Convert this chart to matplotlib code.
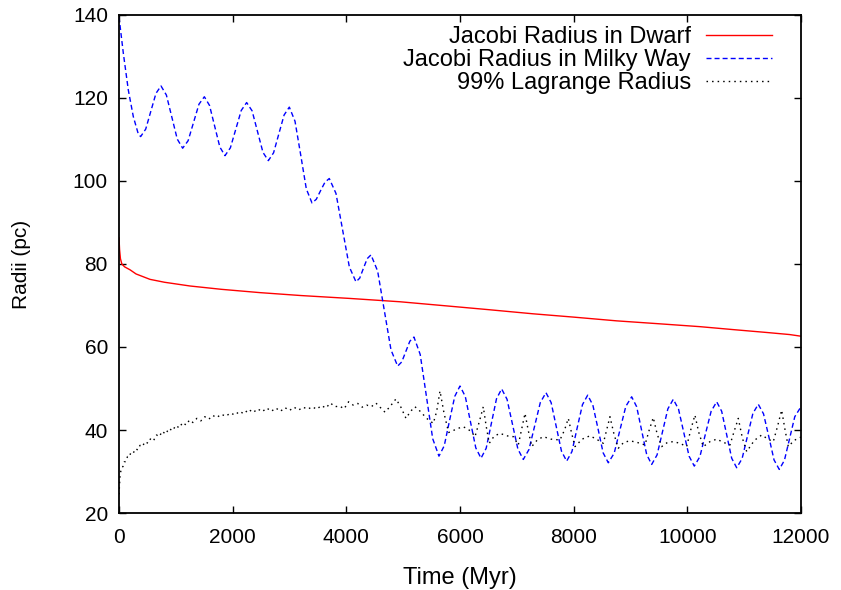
import matplotlib
matplotlib.use('Agg')
import matplotlib.pyplot as plt

plt.rcParams['font.family'] = ['Liberation Sans', 'DejaVu Sans']

# Jacobi radius in the dwarf (red, solid)
dwarf_t = [0, 10, 25, 50, 100, 194, 300, 545, 800, 1249, 1800, 2481, 3200, 4064,
           4944, 5766, 6500, 7285, 8000, 8757, 9500, 10223, 10800, 11396, 11800, 12000]
dwarf_r = [86.3, 83.5, 81.3, 80.0, 79.3, 78.6, 77.6, 76.3, 75.6, 74.7, 73.9, 73.1, 72.4, 71.7,
           70.9, 69.9, 69.0, 68.0, 67.2, 66.3, 65.6, 64.9, 64.2, 63.5, 63.0, 62.6]

# Jacobi radius in the Milky Way (blue, dashed)
mw_t = [0, 76, 164, 252, 340, 381,
        470, 560, 650, 739,
        834, 930, 1025, 1120,
        1216, 1311, 1407, 1502,
        1593, 1684, 1774, 1865,
        1960, 2056, 2151, 2246,
        2342, 2437, 2533, 2628,
        2720, 2813, 2905, 2997,
        3097, 3197, 3296, 3396,
        3472, 3548, 3624, 3700,
        3818, 3935, 4053, 4170,
        4236, 4302, 4368, 4434,
        4551, 4669, 4786, 4903,
        4975, 5047, 5118, 5190,
        5300, 5410, 5520, 5630,
        5723, 5815, 5908, 6000,
        6093, 6185, 6278, 6370,
        6461, 6552, 6642, 6733,
        6828, 6924, 7019, 7114,
        7214, 7314, 7413, 7513,
        7604, 7695, 7786, 7877,
        7970, 8062, 8155, 8247,
        8338, 8429, 8519, 8610,
        8713, 8816, 8918, 9021,
        9109, 9197, 9285, 9373,
        9468, 9563, 9658, 9753,
        9846, 9938, 10031, 10123,
        10222, 10320, 10419, 10517,
        10605, 10693, 10781, 10869,
        10964, 11059, 11154, 11249,
        11341, 11434, 11526, 11618,
        11709, 11800, 11891, 12000]
mw_r = [139.5, 130.8, 121.9, 115.5, 111.3, 110.7,
        112.5, 116.8, 121.1, 122.9,
        120.7, 115.4, 110.1, 107.9,
        109.7, 114.1, 118.5, 120.3,
        118.2, 113.2, 108.2, 106.1,
        108.0, 112.5, 117.0, 118.9,
        116.9, 111.9, 106.9, 104.9,
        106.8, 111.4, 115.9, 117.8,
        114.4, 106.3, 98.1, 94.7,
        95.6, 97.7, 99.7, 100.6,
        97.0, 88.2, 79.3, 75.7,
        76.6, 79.0, 81.3, 82.2,
        78.3, 68.8, 59.3, 55.4,
        56.4, 58.9, 61.4, 62.4,
        58.2, 48.1, 37.9, 33.7,
        36.2, 42.2, 48.1, 50.6,
        48.1, 41.9, 35.7, 33.2,
        35.6, 41.6, 47.5, 49.9,
        47.4, 41.4, 35.4, 32.9,
        35.3, 41.0, 46.6, 49.0,
        46.6, 40.8, 34.9, 32.5,
        34.8, 40.5, 46.1, 48.4,
        46.0, 40.3, 34.5, 32.1,
        34.4, 40.1, 45.7, 48.0,
        45.6, 39.9, 34.1, 31.7,
        34.0, 39.6, 45.1, 47.4,
        45.0, 39.4, 33.7, 31.3,
        33.6, 39.1, 44.5, 46.8,
        44.5, 38.9, 33.2, 30.9,
        33.1, 38.6, 44.0, 46.2,
        43.9, 38.4, 32.8, 30.5,
        32.7, 38.0, 43.2, 45.6]

# 99% Lagrange radius (black, dotted)
lag_t = [0, 10, 20, 35, 50, 70, 90, 120, 150, 180, 210, 250, 290, 330, 370, 410,
         460, 510, 560, 610, 660, 710, 760, 820, 880, 940, 1000, 1060, 1120, 1180,
         1240, 1300, 1370, 1440, 1510, 1580, 1650, 1720, 1800, 1880, 1960, 2040,
         2120, 2200, 2280, 2360, 2440, 2520, 2600, 2680, 2760, 2840, 2920, 3000,
         3080, 3160, 3240, 3320, 3400, 3480, 3560, 3640, 3720, 3800, 3880, 3960,
         4040, 4120, 4200, 4280, 4360, 4440, 4520, 4600, 4680, 4760, 4874, 4960,
         5050, 5130, 5208, 5300, 5414, 5530, 5590, 5648, 5720, 5800, 5970, 6050,
         6118, 6200, 6264, 6340, 6410, 6460, 6515, 6600, 6704, 6820, 6938, 7026,
         7090, 7144, 7200, 7262, 7360, 7466, 7600, 7759, 7840, 7906, 7960, 8023,
         8150, 8287, 8400, 8522, 8580, 8639, 8710, 8786, 8880, 8991, 9120, 9255,
         9330, 9401, 9470, 9549, 9650, 9753, 9870, 9988, 10060, 10134, 10200, 10281,
         10400, 10517, 10640, 10751, 10820, 10897, 10970, 11045, 11180, 11309, 11420,
         11513, 11590, 11660, 11720, 11777, 11880, 11953, 12000]
lag_r = [24.5, 27.0, 29.5, 30.2, 31.0, 31.2, 32.3, 32.4, 33.6, 33.5, 34.6, 34.4, 35.5, 35.2, 36.3, 36.0,
         37.2, 36.8, 38.0, 37.5, 38.8, 38.4, 39.7, 39.0, 40.4, 39.8, 41.1, 40.5, 41.8, 41.2,
         42.4, 41.8, 42.8, 42.2, 43.2, 42.6, 43.5, 43.0, 43.8, 43.3, 44.1, 43.6,
         44.5, 43.9, 45.0, 44.2, 45.1, 44.4, 45.3, 44.5, 45.3, 44.5, 45.4, 44.7,
         45.5, 44.8, 45.5, 45.0, 45.6, 45.0, 45.9, 45.3, 46.5, 45.6, 45.8, 45.1,
         46.8, 46.0, 46.4, 45.5, 46.0, 45.6, 46.5, 45.4, 44.3, 45.5, 47.5, 45.5,
         42.8, 44.5, 45.6, 44.5, 42.8, 41.6, 44.5, 49.4, 44.0, 39.4, 40.4, 40.8,
         40.4, 39.6, 38.4, 42.0, 45.6, 41.0, 36.8, 38.5, 39.2, 38.6, 38.4, 36.4,
         40.5, 44.0, 40.0, 36.0, 37.6, 38.4, 37.8, 37.6, 40.0, 42.8, 39.5, 36.0,
         37.8, 38.6, 37.8, 36.8, 40.0, 43.2, 39.0, 35.6, 37.0, 37.4, 37.0, 36.4,
         40.0, 43.0, 39.0, 36.0, 37.0, 37.2, 36.8, 36.0, 40.0, 43.6, 39.5, 36.0,
         37.2, 37.8, 37.0, 36.4, 39.5, 42.8, 38.0, 34.8, 37.5, 38.8, 37.8,
         37.2, 41.0, 44.8, 40.0, 36.0, 37.5, 38.0, 38.3]

fig = plt.figure(figsize=(8.41, 5.9), dpi=100)
ax = fig.add_axes([0.1415, 0.1305, 0.8109, 0.8441])

ax.plot(dwarf_t, dwarf_r, color='#ff0000', lw=1.0, label='Jacobi Radius in Dwarf')
ax.plot(mw_t, mw_r, color='#0000ff', lw=1.0, dashes=(3.6, 2.2), label='Jacobi Radius in Milky Way')
ax.plot(lag_t, lag_r, color='black', lw=1.0, dashes=(1.1, 2.9), label='99% Lagrange Radius')

ax.set_xlim(0, 12000)
ax.set_ylim(20, 140)
ax.set_xticks(range(0, 12001, 2000))
ax.set_yticks(range(20, 141, 20))
ax.tick_params(direction='in', length=5, width=1, labelsize=15, top=True, right=True)
ax.tick_params(axis='x', pad=11)
ax.tick_params(axis='y', pad=8)
for s in ax.spines.values():
    s.set_linewidth(1.3)

ax.set_xlabel('Time (Myr)', fontsize=17, labelpad=14)
ax.set_ylabel('Radii (pc)', fontsize=15, labelpad=30)

ax.legend(loc='upper right', bbox_to_anchor=(0.958, 0.977), frameon=False, markerfirst=False,
          fontsize=17, handlelength=2.8, handletextpad=0.65, labelspacing=0.03,
          borderpad=0, borderaxespad=0)

plt.savefig('out.png', dpi=100)
